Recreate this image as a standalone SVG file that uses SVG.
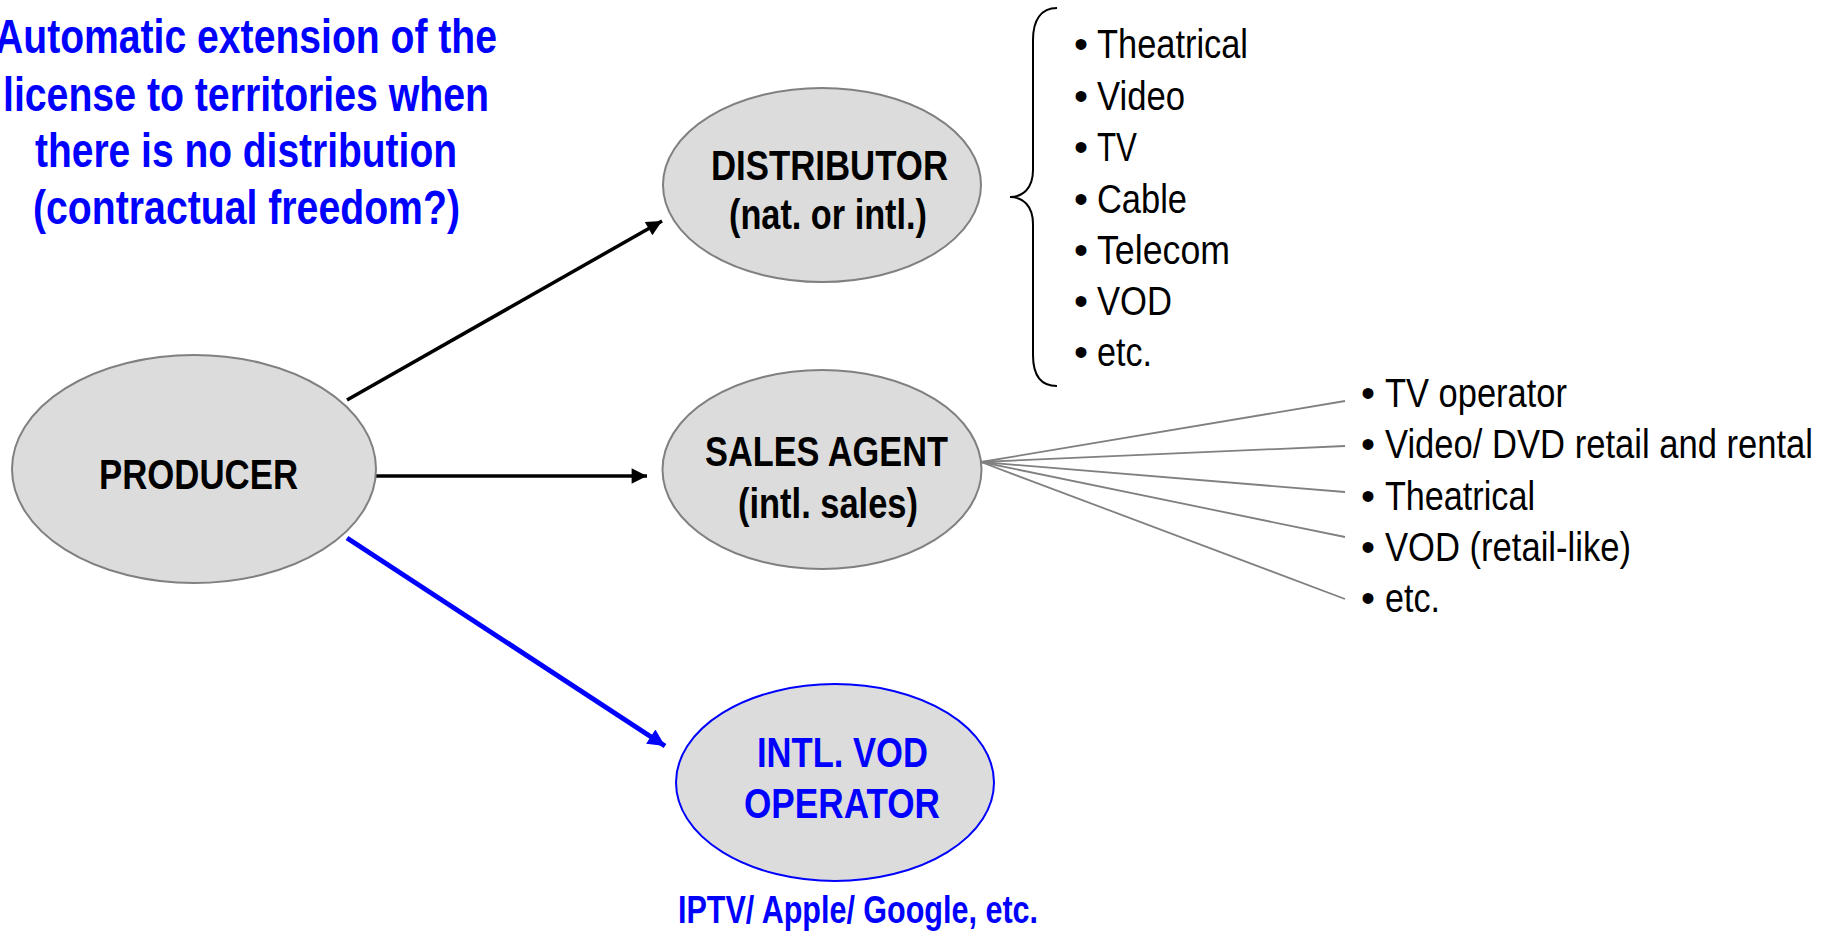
<svg xmlns="http://www.w3.org/2000/svg" width="1834" height="931" viewBox="0 0 1834 931">
<defs>
<style>
.node{fill:#dcdcdc;stroke:#808080;stroke-width:2}
.node-blue{fill:#dcdcdc;stroke:#0000ff;stroke-width:2}
.lbl{font-family:"Liberation Sans Narrow","Liberation Sans",Arial,sans-serif;font-weight:bold;font-size:42px;fill:#000}
.blue{fill:#0000ff}
.title{font-family:"Liberation Sans Narrow","Liberation Sans",Arial,sans-serif;font-weight:bold;font-size:48px;fill:#0000ff}
.li{font-family:"Liberation Sans Narrow","Liberation Sans",Arial,sans-serif;font-size:40px;fill:#000}
.conn{fill:none;stroke:#000;stroke-width:3.5}
.conn-blue{fill:none;stroke:#0000ff;stroke-width:5}
.fan{fill:none;stroke:#808080;stroke-width:1.8}
.brace{fill:none;stroke:#000;stroke-width:2}
</style>
<marker id="ah" viewBox="0 0 10 10" refX="10" refY="5" markerWidth="5" markerHeight="4.4" markerUnits="strokeWidth" orient="auto">
<path d="M0,0 L10,5 L0,10 z" fill="#000"/>
</marker>
<marker id="ahb" viewBox="0 0 10 10" refX="10" refY="5" markerWidth="4" markerHeight="3.4" markerUnits="strokeWidth" orient="auto">
<path d="M0,0 L10,5 L0,10 z" fill="#0000ff"/>
</marker>
</defs>
<rect x="0" y="0" width="1834" height="931" fill="#fff"/>

<g id="title">
<text class="title" x="-5" y="53" textLength="502" lengthAdjust="spacingAndGlyphs">Automatic extension of the</text>
<text class="title" x="3" y="111" textLength="486" lengthAdjust="spacingAndGlyphs">license to territories when</text>
<text class="title" x="35" y="167" textLength="422" lengthAdjust="spacingAndGlyphs">there is no distribution</text>
<text class="title" x="33" y="224" textLength="427" lengthAdjust="spacingAndGlyphs">(contractual freedom?)</text>
</g>

<g id="connectors">
<line class="conn" x1="347" y1="400" x2="662" y2="221" marker-end="url(#ah)"/>
<line class="conn" x1="376" y1="476" x2="647" y2="476" marker-end="url(#ah)"/>
<line class="conn-blue" x1="347" y1="538" x2="665" y2="746" marker-end="url(#ahb)"/>
<line class="fan" x1="981" y1="462" x2="1345" y2="401"/>
<line class="fan" x1="981" y1="462" x2="1345" y2="446"/>
<line class="fan" x1="981" y1="462" x2="1345" y2="492"/>
<line class="fan" x1="981" y1="462" x2="1345" y2="537"/>
<line class="fan" x1="981" y1="462" x2="1345" y2="599"/>
<path class="brace" d="M1057,8 C1041,8 1033,20 1033,40 L1033,170 C1033,188 1023,197 1010,197 C1023,197 1033,206 1033,224 L1033,355 C1033,375 1041,386 1057,386"/>
</g>

<g id="producer">
<ellipse class="node" cx="194" cy="469" rx="182" ry="114"/>
<text class="lbl" x="99" y="489" textLength="199" lengthAdjust="spacingAndGlyphs">PRODUCER</text>
</g>

<g id="distributor">
<ellipse class="node" cx="822" cy="185" rx="159" ry="97"/>
<text class="lbl" x="711" y="180" textLength="237" lengthAdjust="spacingAndGlyphs">DISTRIBUTOR</text>
<text class="lbl" x="729" y="229" textLength="198" lengthAdjust="spacingAndGlyphs">(nat. or intl.)</text>
</g>

<g id="sales-agent">
<ellipse class="node" cx="822" cy="469.5" rx="159.5" ry="99.5"/>
<text class="lbl" x="705" y="466" textLength="243" lengthAdjust="spacingAndGlyphs">SALES AGENT</text>
<text class="lbl" x="738" y="518" textLength="180" lengthAdjust="spacingAndGlyphs">(intl. sales)</text>
</g>

<g id="vod-operator">
<ellipse class="node-blue" cx="835" cy="782.5" rx="159" ry="98.5"/>
<text class="lbl blue" x="757" y="767" textLength="171" lengthAdjust="spacingAndGlyphs">INTL. VOD</text>
<text class="lbl blue" x="744" y="818" textLength="196" lengthAdjust="spacingAndGlyphs">OPERATOR</text>
<text class="lbl blue" x="678" y="923" textLength="360" lengthAdjust="spacingAndGlyphs" style="font-size:38px">IPTV/ Apple/ Google, etc.</text>
</g>

<g id="distributor-list">
<text class="li" y="58"><tspan x="1074">•</tspan><tspan x="1097" textLength="151" lengthAdjust="spacingAndGlyphs">Theatrical</tspan></text>
<text class="li" y="109.5"><tspan x="1074">•</tspan><tspan x="1097" textLength="88" lengthAdjust="spacingAndGlyphs">Video</tspan></text>
<text class="li" y="161"><tspan x="1074">•</tspan><tspan x="1097" textLength="40" lengthAdjust="spacingAndGlyphs">TV</tspan></text>
<text class="li" y="212.5"><tspan x="1074">•</tspan><tspan x="1097" textLength="90" lengthAdjust="spacingAndGlyphs">Cable</tspan></text>
<text class="li" y="264"><tspan x="1074">•</tspan><tspan x="1097" textLength="133" lengthAdjust="spacingAndGlyphs">Telecom</tspan></text>
<text class="li" y="315"><tspan x="1074">•</tspan><tspan x="1097" textLength="75" lengthAdjust="spacingAndGlyphs">VOD</tspan></text>
<text class="li" y="366"><tspan x="1074">•</tspan><tspan x="1097" textLength="55" lengthAdjust="spacingAndGlyphs">etc.</tspan></text>
</g>

<g id="sales-list">
<text class="li" y="407"><tspan x="1361">•</tspan><tspan x="1385" textLength="182" lengthAdjust="spacingAndGlyphs">TV operator</tspan></text>
<text class="li" y="458.3"><tspan x="1361">•</tspan><tspan x="1385" textLength="428" lengthAdjust="spacingAndGlyphs">Video/ DVD retail and rental</tspan></text>
<text class="li" y="509.6"><tspan x="1361">•</tspan><tspan x="1385" textLength="150" lengthAdjust="spacingAndGlyphs">Theatrical</tspan></text>
<text class="li" y="561"><tspan x="1361">•</tspan><tspan x="1385" textLength="246" lengthAdjust="spacingAndGlyphs">VOD (retail-like)</tspan></text>
<text class="li" y="612"><tspan x="1361">•</tspan><tspan x="1385" textLength="55" lengthAdjust="spacingAndGlyphs">etc.</tspan></text>
</g>
</svg>
